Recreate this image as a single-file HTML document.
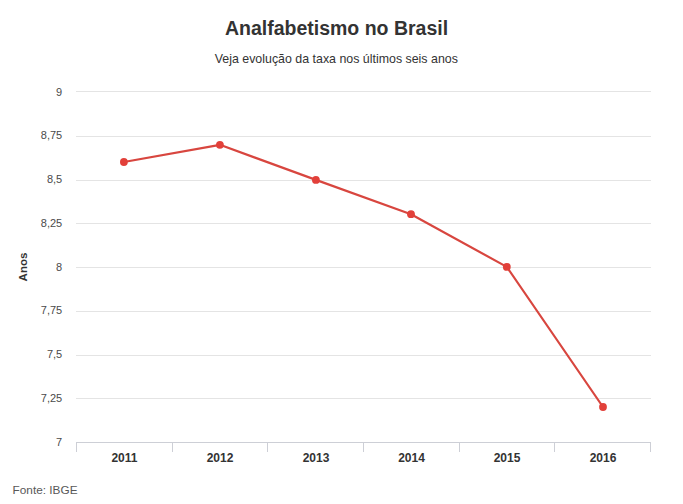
<!DOCTYPE html>
<html><head><meta charset="utf-8">
<style>
html,body{margin:0;padding:0;background:#fff;width:683px;height:504px;overflow:hidden}
svg{display:block}
text{font-family:"Liberation Sans",sans-serif}
</style></head><body>
<svg width="683" height="504" viewBox="0 0 683 504">
<rect width="683" height="504" fill="#fff"/>
<text x="336.5" y="34.6" text-anchor="middle" font-size="19.5" font-weight="bold" fill="#333">Analfabetismo no Brasil</text>
<text x="336.3" y="62.7" text-anchor="middle" font-size="12.4" fill="#333">Veja evolução da taxa nos últimos seis anos</text>
<g stroke="#e4e4e4" stroke-width="1">
<line x1="76" y1="91.5" x2="651" y2="91.5"/>
<line x1="76" y1="136.5" x2="651" y2="136.5"/>
<line x1="76" y1="180.5" x2="651" y2="180.5"/>
<line x1="76" y1="223.5" x2="651" y2="223.5"/>
<line x1="76" y1="267.5" x2="651" y2="267.5"/>
<line x1="76" y1="311.5" x2="651" y2="311.5"/>
<line x1="76" y1="355.5" x2="651" y2="355.5"/>
<line x1="76" y1="398.5" x2="651" y2="398.5"/>
</g>
<g stroke="#cdcfd6" stroke-width="1">
<line x1="76" y1="442.5" x2="651" y2="442.5"/>
<line x1="76.5" y1="442" x2="76.5" y2="452"/>
<line x1="172.5" y1="442" x2="172.5" y2="452"/>
<line x1="267.5" y1="442" x2="267.5" y2="452"/>
<line x1="363.5" y1="442" x2="363.5" y2="452"/>
<line x1="459.5" y1="442" x2="459.5" y2="452"/>
<line x1="554.5" y1="442" x2="554.5" y2="452"/>
<line x1="650.5" y1="442" x2="650.5" y2="452"/>
</g>
<g font-size="11" fill="#4a4a4a" text-anchor="end">
<text x="62.2" y="96">9</text>
<text x="62.2" y="139.2">8,75</text>
<text x="62.2" y="183.1">8,5</text>
<text x="62.2" y="227.1">8,25</text>
<text x="62.2" y="271.1">8</text>
<text x="62.2" y="314.1">7,75</text>
<text x="62.2" y="358.1">7,5</text>
<text x="62.2" y="402.1">7,25</text>
<text x="62.2" y="446.2">7</text>
</g>
<g font-size="12" font-weight="bold" fill="#333" text-anchor="middle">
<text x="124.4" y="462">2011</text>
<text x="220" y="462">2012</text>
<text x="316" y="462">2013</text>
<text x="411.5" y="462">2014</text>
<text x="507" y="462">2015</text>
<text x="603" y="462">2016</text>
</g>
<text transform="translate(27,267) rotate(-90)" text-anchor="middle" font-size="11.5" font-weight="bold" fill="#333">Anos</text>
<polyline fill="none" stroke="#d8463f" stroke-width="2.2" stroke-linejoin="round" points="123.9,162 219.9,144.8 315.9,179.9 411,214.2 506.8,266.9 603,407"/>
<g fill="#e2403a">
<circle cx="123.9" cy="162" r="3.9"/>
<circle cx="219.9" cy="144.8" r="3.9"/>
<circle cx="315.9" cy="179.9" r="3.9"/>
<circle cx="411" cy="214.2" r="3.9"/>
<circle cx="506.8" cy="266.9" r="3.9"/>
<circle cx="603" cy="407" r="3.9"/>
</g>
<text x="12.6" y="493.8" font-size="11.8" fill="#585858">Fonte: IBGE</text>
</svg>
</body></html>
